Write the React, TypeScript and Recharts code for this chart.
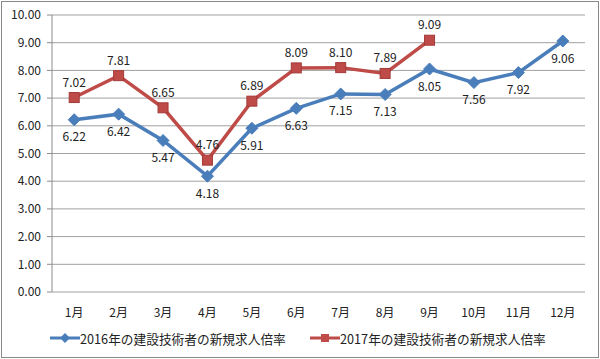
import React from "react";
import { LineChart, Line, XAxis, YAxis, CartesianGrid, LabelList, Legend } from "recharts";

const months = ["1月", "2月", "3月", "4月", "5月", "6月", "7月", "8月", "9月", "10月", "11月", "12月"];
const rate2016 = [6.22, 6.42, 5.47, 4.18, 5.91, 6.63, 7.15, 7.13, 8.05, 7.56, 7.92, 9.06];
const rate2017: (number | null)[] = [7.02, 7.81, 6.65, 4.76, 6.89, 8.09, 8.1, 7.89, 9.09, null, null, null];
const yTicks = [0, 1, 2, 3, 4, 5, 6, 7, 8, 9, 10];
const boundaryTicks = [0, 1, 2, 3, 4, 5, 6, 7, 8, 9, 10, 11, 12];
const name2016 = "2016年の建設技術者の新規求人倍率";
const name2017 = "2017年の建設技術者の新規求人倍率";

const data = months.map((m, i) => ({
  x: i + 0.5,
  month: m,
  r2016: rate2016[i],
  r2017: rate2017[i],
}));

const BLUE = "#4A7EBB";
const RED = "#BE4B48";
const FONT = "'Noto Sans CJK JP', 'Noto Sans', sans-serif";

const Diamond = (props: any) => {
  const { cx, cy } = props;
  if (cx == null || cy == null) return <g />;
  const r = 6;
  return <path d={`M${cx},${cy - r}L${cx + r},${cy}L${cx},${cy + r}L${cx - r},${cy}Z`} fill={BLUE} stroke={BLUE} strokeWidth={1} />;
};

const Square = (props: any) => {
  const { cx, cy, value } = props;
  if (cx == null || cy == null || value == null) return <g />;
  const s = 10;
  return <rect x={cx - s / 2} y={cy - s / 2} width={s} height={s} fill={RED} stroke="#A33B38" strokeWidth={1} />;
};

const EmptyTick = () => <g />;

const LegendContent = () => (
  <div style={{ position: "relative", width: 600, height: 20, fontFamily: FONT, fontSize: 12.7, color: "#222" }}>
    <div style={{ position: "absolute", left: 50, top: 0, display: "flex", alignItems: "center" }}>
      <svg width={30} height={20}>
        <line x1={0} y1={10} x2={30} y2={10} stroke={BLUE} strokeWidth={3} />
        <path d="M15,5L20,10L15,15L10,10Z" fill={BLUE} />
      </svg>
      <span>{name2016}</span>
    </div>
    <div style={{ position: "absolute", left: 310, top: 0, display: "flex", alignItems: "center" }}>
      <svg width={30} height={20}>
        <line x1={0} y1={10} x2={30} y2={10} stroke={RED} strokeWidth={3} />
        <rect x={11} y={6} width={8} height={8} fill={RED} />
      </svg>
      <span>{name2017}</span>
    </div>
  </div>
);

export default function App() {
  return (
    <div style={{ position: "absolute", left: 0, top: 0, width: 600, height: 359, background: "#fff" }}>
      <div style={{ position: "absolute", left: 1, top: 1, width: 596, height: 355, border: "1px solid #8a8a8a" }} />
      <LineChart
        width={600}
        height={359}
        data={data}
        margin={{ top: 15, right: 15, bottom: 37, left: 0 }}
        style={{ fontFamily: FONT }}
      >
        <CartesianGrid vertical={false} stroke="#a0a0a0" strokeWidth={1} />
        <XAxis
          xAxisId="b"
          dataKey="x"
          type="number"
          domain={[0, 12]}
          ticks={boundaryTicks}
          tick={<EmptyTick />}
          tickLine={{ stroke: "#8c8c8c" }}
          tickSize={5}
          axisLine={{ stroke: "#8c8c8c" }}
          height={0}
        />
        <XAxis
          xAxisId="a"
          dataKey="x"
          type="number"
          domain={[0, 12]}
          ticks={data.map((d) => d.x)}
          tickFormatter={(v: number) => months[Math.round(v - 0.5)]}
          tickLine={false}
          axisLine={false}
          tick={{ fill: "#222", fontSize: 12, fontFamily: FONT }}
          tickMargin={10}
          height={30}
          interval={0}
        />
        <YAxis
          domain={[0, 10]}
          ticks={yTicks}
          tickFormatter={(v: number) => v.toFixed(2)}
          width={52}
          tick={{ fill: "#222", fontSize: 12, fontFamily: FONT }}
          tickLine={{ stroke: "#8c8c8c" }}
          tickSize={5}
          tickMargin={6}
          axisLine={{ stroke: "#8c8c8c" }}
          interval={0}
        />
        <Legend
          verticalAlign="middle"
          align="center"
          layout="horizontal"
          content={<LegendContent />}
          wrapperStyle={{ left: 0, top: 328, width: 600 }}
        />
        <Line
          xAxisId="a"
          type="linear"
          dataKey="r2016"
          name={name2016}
          stroke={BLUE}
          strokeWidth={3.5}
          dot={<Diamond />}
          activeDot={false}
          isAnimationActive={false}
        >
          <LabelList
            dataKey="r2016"
            position="bottom"
            offset={13}
            formatter={(v: number) => v.toFixed(2)}
            style={{ fill: "#222", fontSize: 12, fontFamily: FONT }}
          />
        </Line>
        <Line
          xAxisId="a"
          type="linear"
          dataKey="r2017"
          name={name2017}
          stroke={RED}
          strokeWidth={3.5}
          dot={<Square />}
          activeDot={false}
          connectNulls={false}
          isAnimationActive={false}
        >
          <LabelList
            dataKey="r2017"
            position="top"
            offset={11}
            formatter={(v: any) => (v == null ? "" : Number(v).toFixed(2))}
            style={{ fill: "#222", fontSize: 12, fontFamily: FONT }}
          />
        </Line>
      </LineChart>
    </div>
  );
}
